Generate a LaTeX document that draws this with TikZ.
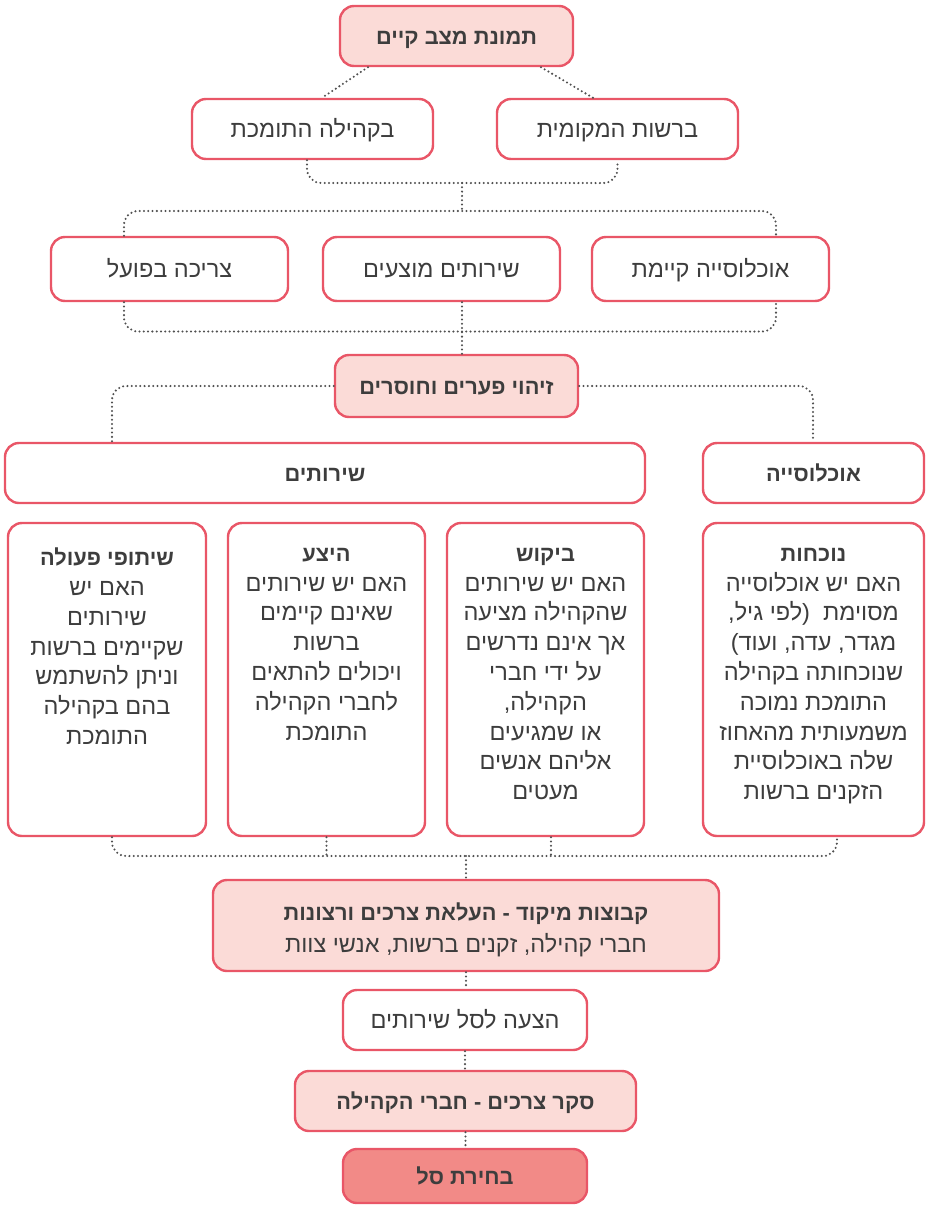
\documentclass[tikz,border=0pt]{standalone}
\usepackage{fontspec}
\usetikzlibrary{calc}
\TeXXeTstate=1
\newfontfamily\heb[Script=Hebrew]{Liberation Sans}
\newcommand\rl[1]{\beginR#1\endR}
\newcommand\bt[1]{{\fontsize{21.8}{29.8}\selectfont\bfseries #1}}
\definecolor{bordercol}{HTML}{E95667}
\definecolor{pinkfill}{HTML}{FBDBD7}
\definecolor{darkfill}{HTML}{F28A87}
\definecolor{txt}{HTML}{3D3D3D}
\definecolor{dotcol}{HTML}{505050}
\tikzset{
  box/.style={draw=bordercol, line width=2.4pt, rounded corners=14pt, fill=white, inner sep=0pt, text=txt, font=\heb\fontsize{23.5}{29.8}\selectfont, align=center},
  pinkbox/.style={box, fill=pinkfill},
  darkbox/.style={box, fill=darkfill},
  onel/.style={text height=16pt, text depth=0pt},
  bodytext/.style={inner sep=0pt, text=txt, font=\heb\fontsize{23.5}{29.8}\selectfont, align=center, anchor=north},
  conn/.style={draw=dotcol, line width=2.3pt, dash pattern=on 0pt off 4.3pt, line cap=round, rounded corners=14pt}
}
\begin{document}
\begin{tikzpicture}[x=1pt,y=-1pt]
\useasboundingbox (0,0) rectangle (927,1205);
% nodes
\node[pinkbox, onel, minimum width=233pt, minimum height=60pt] (top) at (456.5,36) {\rl{\bt{תמונת מצב קיים}}};
\node[box, onel, minimum width=241pt, minimum height=60pt] (l2) at (312.5,129) {\rl{בקהילה התומכת}};
\node[box, onel, minimum width=241pt, minimum height=60pt] (r2) at (617.5,129) {\rl{ברשות המקומית}};
\node[box, onel, minimum width=237pt, minimum height=64pt] (a3) at (169.5,269) {\rl{צריכה בפועל}};
\node[box, onel, minimum width=237pt, minimum height=64pt] (b3) at (441.5,269) {\rl{שירותים מוצעים}};
\node[box, onel, minimum width=237pt, minimum height=64pt] (c3) at (710.5,269) {\rl{אוכלוסייה קיימת}};
\node[pinkbox, onel, minimum width=243pt, minimum height=62pt] (gap) at (456.5,386) {\rl{\bt{זיהוי פערים וחוסרים}}};
\node[box, onel, minimum width=640pt, minimum height=60pt] (serv) at (325,473) {\rl{\bt{שירותים}}};
\node[box, onel, minimum width=221pt, minimum height=60pt] (pop) at (813.5,473) {\rl{\bt{אוכלוסייה}}};
\node[box, minimum width=198pt, minimum height=313pt] (t1) at (107,679.5) {};
\node[box, minimum width=197pt, minimum height=313pt] (t2) at (326.5,679.5) {};
\node[box, minimum width=197pt, minimum height=313pt] (t3) at (545.5,679.5) {};
\node[box, minimum width=221pt, minimum height=313pt] (t4) at (813.5,679.5) {};
\node[pinkbox, minimum width=506pt, minimum height=91pt] (focus) at (466,925.5) {};
\node[bodytext, anchor=center, font=\heb\fontsize{23.5}{32}\selectfont] (focustxt) at (466,929.5) {\rl{\bt{קבוצות מיקוד - העלאת צרכים ורצונות}}\\\rl{חברי קהילה, זקנים ברשות, אנשי צוות}};
\node[box, onel, minimum width=244pt, minimum height=60pt] (offer) at (465,1020) {\rl{הצעה לסל שירותים}};
\node[pinkbox, onel, minimum width=341pt, minimum height=60pt] (survey) at (465.5,1101) {\rl{\bt{סקר צרכים - חברי הקהילה}}};
\node[darkbox, onel, minimum width=244pt, minimum height=54pt] (choose) at (465,1176) {\rl{\bt{בחירת סל}}};
% texts in tall boxes
\node[bodytext] (t1txt) at ($(t1.north)+(0,26)$) {\rl{\bt{שיתופי פעולה}}\\\rl{האם יש}\\\rl{שירותים}\\\rl{שקיימים ברשות}\\\rl{וניתן להשתמש}\\\rl{בהם בקהילה}\\\rl{התומכת}};
\node[bodytext] (t2txt) at ($(t2.north)+(0,26)$) {\rl{\bt{היצע}}\\\rl{האם יש שירותים}\\\rl{שאינם קיימים}\\\rl{ברשות}\\\rl{ויכולים להתאים}\\\rl{לחברי הקהילה}\\\rl{התומכת}};
\node[bodytext] (t3txt) at ($(t3.north)+(0,26)$) {\rl{\bt{ביקוש}}\\\rl{האם יש שירותים}\\\rl{שהקהילה מציעה}\\\rl{אך אינם נדרשים}\\\rl{על ידי חברי}\\\rl{הקהילה,}\\\rl{או שמגיעים}\\\rl{אליהם אנשים}\\\rl{מעטים}};
\node[bodytext] (t4txt) at ($(t4.north)+(0,26)$) {\rl{\bt{נוכחות}}\\\rl{האם יש אוכלוסייה}\\\rl{מסוימת \ (לפי גיל,}\\\rl{מגדר, עדה, ועוד)}\\\rl{שנוכחותה בקהילה}\\\rl{התומכת נמוכה}\\\rl{משמעותית מהאחוז}\\\rl{שלה באוכלוסיית}\\\rl{הזקנים ברשות}};
% junctions
\coordinate (j1) at (462,183);
\coordinate (j2) at (462,211);
\coordinate (j3) at (462,331.5);
\coordinate (j4) at (466,856);
% connectors
\draw[conn] ($(top.south)+(-88.5,0)$) -- ($(l2.north)+(9.5,0)$);
\draw[conn] ($(top.south)+(84.5,0)$) -- ($(r2.north)+(-24.5,0)$);
\draw[conn] ($(l2.south)+(-5.5,0)$) |- (j1) -| (r2.south);
\draw[conn] (j1) -- (j2);
\draw[conn] ($(a3.north)+(-45.5,0)$) |- (j2) -| ($(c3.north)+(65.5,0)$);
\draw[conn] ($(a3.south)+(-45.5,0)$) |- (j3) -| ($(c3.south)+(65.5,0)$);
\draw[conn] ($(b3.south)+(20.5,0)$) -- ($(gap.north)+(5.5,0)$);
\draw[conn] (gap.west) -| ($(serv.north)+(-213,0)$);
\draw[conn] (gap.east) -| ($(pop.north)+(-0.5,0)$);
\draw[conn] ($(t1.south)+(5,0)$) |- (j4) -| ($(t4.south)+(23.5,0)$);
\draw[conn] (t2.south) -- (t2.south |- j4);
\draw[conn] ($(t3.south)+(5.5,0)$) -- ($(t3.south |- j4)+(5.5,0)$);
\draw[conn] (j4) -- (focus.north);
\draw[conn] (focus.south) -- (focus.south |- offer.north);
\draw[conn] (offer.south) -- (offer.south |- survey.north);
\draw[conn] (survey.south) -- (survey.south |- choose.north);
\end{tikzpicture}
\end{document}
